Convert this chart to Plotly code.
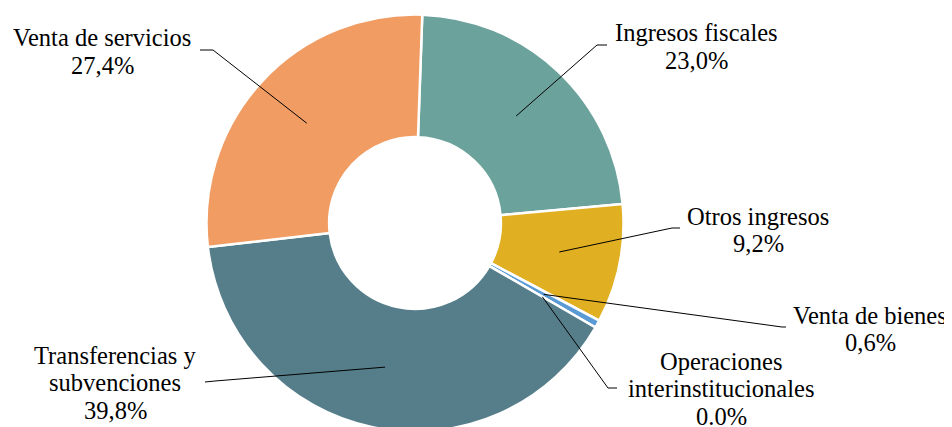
import math
import plotly.graph_objects as go

# ---- data ----
categories = ["Ingresos fiscales", "Otros ingresos", "Venta de bienes",
              "Operaciones interinstitucionales", "Transferencias y subvenciones",
              "Venta de servicios"]
values = [23.0, 9.2, 0.6, 0.0, 39.8, 27.4]
pct_labels = ["23,0%", "9,2%", "0,6%", "0.0%", "39,8%", "27,4%"]
label_lines = [["Ingresos fiscales"], ["Otros ingresos"], ["Venta de bienes"],
               ["Operaciones", "interinstitucionales"], ["Transferencias y", "subvenciones"],
               ["Venta de servicios"]]
colors = ["#6BA29B", "#E1AF22", "#5B9BD5", "#A5A5A5", "#557E8A", "#F09C62"]

W, H = 944, 427
OFF = 8  # page body margin
FONT = "Liberation Serif, Times New Roman, serif"

# pie geometry (screen pixels)
CX, CY, R = 415 - OFF, 223 - OFF, 208.5
HOLE = 0.412
ROT = 2
dom_x = [(CX - R) / W, (CX + R) / W]
dom_y = [(H - CY - R) / H, (H - CY + R) / H]


def px(x):
    return (x - OFF) / W


def py(y):
    return 1 - (y - OFF) / H


# label layout in screen pixels: (text center x, first baseline y, elbow, end)
layout_pos = [
    (696, 41, (597, 45), (607, 45)),
    (758, 224, (672, 228), (680, 228)),
    (870, 323, (782, 327), (786, 327)),
    (721, 369, (608, 388), (617, 388)),
    (115, 363, (215, 381), (205, 382)),
    (102, 46, (213, 50), (200, 50)),
]
LINE_H = 27.7

fig = go.Figure(go.Pie(
    labels=categories, values=values, sort=False, direction="clockwise",
    rotation=ROT, hole=HOLE, textinfo="none", hoverinfo="label+percent",
    marker=dict(colors=colors, line=dict(color="white", width=2.5)),
    domain=dict(x=dom_x, y=dom_y), showlegend=False,
))

shapes = []
annotations = []
total = sum(values)
cum = 0.0
r_mid = R * (1 + HOLE) / 2
scx, scy = CX + OFF, CY + OFF
for i, v in enumerate(values):
    mid = (cum + v / 2) / total * 2 * math.pi + math.radians(ROT)
    cum += v
    sx = scx + r_mid * math.sin(mid)
    sy = scy - r_mid * math.cos(mid)
    tx, ty, elbow, end = layout_pos[i]
    pts = [(sx, sy), elbow, end]
    for (x0, y0), (x1, y1) in zip(pts[:-1], pts[1:]):
        shapes.append(dict(type="line", xref="paper", yref="paper",
                           x0=px(x0), y0=py(y0), x1=px(x1), y1=py(y1),
                           line=dict(color="black", width=1)))
    lines = label_lines[i] + [pct_labels[i]]
    for k, t in enumerate(lines):
        yb = ty + k * LINE_H
        annotations.append(dict(text=t, xref="paper", yref="paper",
                                x=px(tx), y=py(yb - 8), xanchor="center",
                                yanchor="middle", showarrow=False,
                                font=dict(family=FONT, size=24.5, color="black")))

fig.update_layout(
    width=W, height=H, margin=dict(l=0, r=0, t=0, b=0),
    paper_bgcolor="white", plot_bgcolor="white",
    shapes=shapes, annotations=annotations,
)
fig.write_html("out.html")
